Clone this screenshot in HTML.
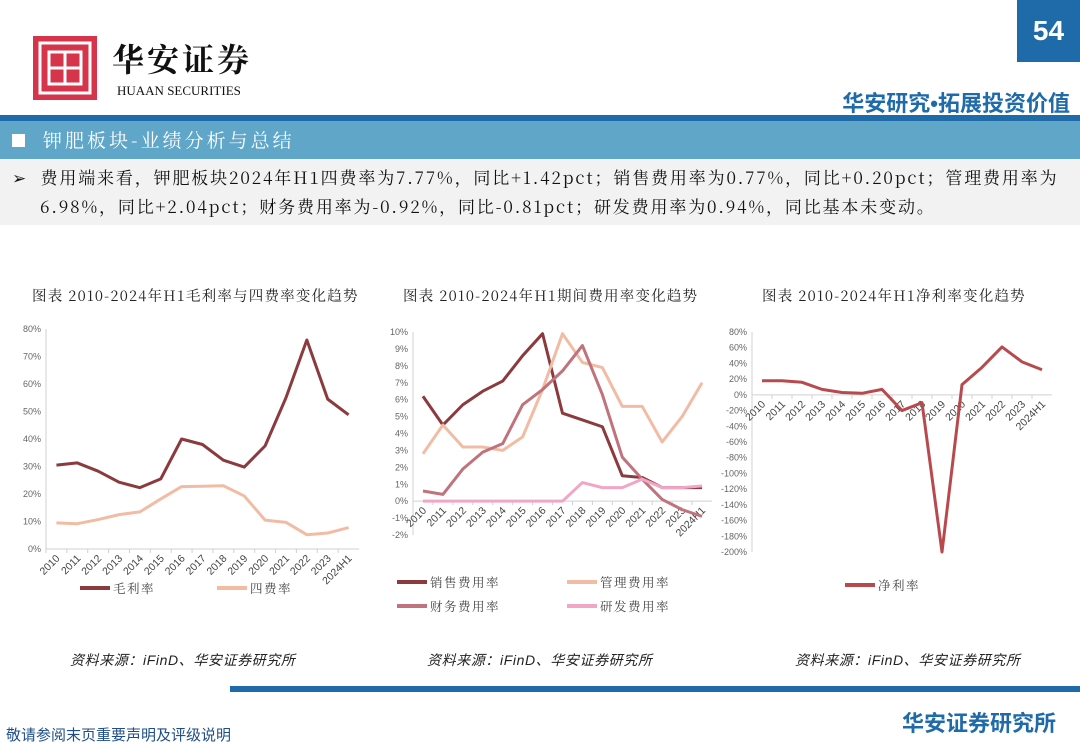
<!DOCTYPE html>
<html><head><meta charset="utf-8">
<style>
body{margin:0;width:1080px;height:748px;background:#fff;font-family:"Liberation Sans","Noto Sans CJK SC",sans-serif;position:relative;overflow:hidden}
.abs{position:absolute}
.cn{font-family:"Noto Serif CJK SC","Noto Sans CJK SC",sans-serif}
</style></head><body>
<div class="abs" style="left:33px;top:36px;width:64px;height:64px;background:#d6344a">
<svg width="64" height="64"><g fill="none" stroke="#fff" stroke-width="3"><rect x="7" y="7" width="50" height="50"/><rect x="16" y="16" width="32" height="32"/><line x1="32" y1="16" x2="32" y2="48"/><line x1="16" y1="32" x2="48" y2="32"/></g></svg></div>
<div class="abs cn" style="left:112px;top:36px;font-size:32px;font-weight:bold;letter-spacing:3px;color:#111;line-height:44px">华安证券</div>
<div class="abs" style="left:117px;top:83px;font-size:13px;font-family:'Liberation Serif',serif;color:#111">HUAAN SECURITIES</div>
<div class="abs" style="left:1017px;top:0;width:63px;height:62px;background:#1f6aa8;color:#fff;font-size:28px;font-weight:bold;text-align:center;line-height:62px">54</div>
<div class="abs" style="right:10px;top:86px;font-size:22px;font-weight:bold;color:#1f6aa8">华安研究•拓展投资价值</div>
<div class="abs" style="left:0;top:115px;width:1080px;height:6px;background:#1f6aa8"></div>
<div class="abs" style="left:0;top:121px;width:1080px;height:38px;background:#5fa6c8;color:#fff;font-size:19px;line-height:38px"><span style="display:inline-block;width:13px;height:13px;background:#fff;margin:0 18px 0 12px"></span><span class="cn" style="letter-spacing:3px">钾肥板块-业绩分析与总结</span></div>
<div class="abs cn" style="left:0;top:159px;width:1080px;height:66px;background:#f2f2f2;font-size:17px;letter-spacing:1.85px;line-height:29px;color:#111;padding-top:3px;box-sizing:border-box;white-space:nowrap"><div style="padding-left:12px">➢&nbsp; 费用端来看，钾肥板块2024年H1四费率为7.77%，同比+1.42pct；销售费用率为0.77%，同比+0.20pct；管理费用率为</div><div style="padding-left:40px">6.98%，同比+2.04pct；财务费用率为-0.92%，同比-0.81pct；研发费用率为0.94%，同比基本未变动。</div></div>
<div class="abs cn" style="left:32px;top:285px;font-size:14.5px;letter-spacing:1.2px;color:#222">图表 2010-2024年H1毛利率与四费率变化趋势</div>
<div class="abs cn" style="left:403px;top:285px;font-size:14.5px;letter-spacing:1.2px;color:#222">图表 2010-2024年H1期间费用率变化趋势</div>
<div class="abs cn" style="left:762px;top:285px;font-size:14.5px;letter-spacing:1.2px;color:#222">图表 2010-2024年H1净利率变化趋势</div>
<div class="abs" style="left:70px;top:650px;font-size:14px;font-style:italic;letter-spacing:0.6px;color:#222">资料来源：iFinD、华安证券研究所</div>
<div class="abs" style="left:427px;top:650px;font-size:14px;font-style:italic;letter-spacing:0.6px;color:#222">资料来源：iFinD、华安证券研究所</div>
<div class="abs" style="left:795px;top:650px;font-size:14px;font-style:italic;letter-spacing:0.6px;color:#222">资料来源：iFinD、华安证券研究所</div>
<div class="abs" style="left:230px;top:686px;width:850px;height:6px;background:#1f6aa8"></div>
<div class="abs" style="left:6px;top:724px;font-size:15px;color:#1f4e8a">敬请参阅末页重要声明及评级说明</div>
<div class="abs" style="right:24px;top:706px;font-size:22px;font-weight:bold;color:#1f6aa8">华安证券研究所</div>
<svg id="c" class="abs" style="left:0;top:0" width="1080" height="748"></svg>
<script>
const categories=["2010","2011","2012","2013","2014","2015","2016","2017","2018","2019","2020","2021","2022","2023","2024H1"];
const grossMargin=[30.5,31.3,28.3,24.3,22.3,25.5,40,38,32.3,29.8,37.5,55,76,54.5,48.8];
const fourFeeRate=[9.5,9.2,10.7,12.5,13.5,18.2,22.7,22.8,23,19.3,10.5,9.7,5.2,5.8,7.8];
const salesRate=[6.2,4.5,5.7,6.5,7.1,8.6,9.9,5.2,4.8,4.4,1.5,1.4,0.8,0.8,0.8];
const adminRate=[2.8,4.5,3.2,3.2,3.0,3.8,6.6,9.9,8.2,7.9,5.6,5.6,3.5,5.0,7.0];
const financeRate=[0.6,0.4,1.9,2.9,3.4,5.7,6.6,7.7,9.2,6.3,2.6,1.3,0.1,-0.5,-0.9];
const rdRate=[0,0,0,0,0,0,0,0,1.1,0.8,0.8,1.3,0.8,0.8,0.9];
const netMargin=[18,18,16,7,3,2,7,-20,-10,-200,13,35,61,42,32];
const ticks1=[0,10,20,30,40,50,60,70,80];
const ticks2=[-2,-1,0,1,2,3,4,5,6,7,8,9,10];
const ticks3=[-200,-180,-160,-140,-120,-100,-80,-60,-40,-20,0,20,40,60,80];
const svg=document.getElementById('c');
const NS='http://www.w3.org/2000/svg';
function mk(t,a,p){const e=document.createElementNS(NS,t);for(const k in a)e.setAttribute(k,a[k]);(p||svg).appendChild(e);return e;}
function chart(cfg){
 const g=mk('g',{});
 
 
 const ymin=cfg.ticks[0],ymax=cfg.ticks[cfg.ticks.length-1];
 const y=v=>cfg.y1+(ymax-v)/(ymax-ymin)*(cfg.y0-cfg.y1);
 const step=(cfg.x1-cfg.x0)/categories.length;
 const x=i=>cfg.x0+step*(i+0.5);
 const zy=y(Math.max(0,ymin));
 mk('line',{x1:cfg.x0,x2:cfg.x0,y1:cfg.y1,y2:cfg.y0,stroke:'#d0d0d0'},g);
 mk('line',{x1:cfg.x0,x2:cfg.x1,y1:zy,y2:zy,stroke:'#d0d0d0'},g);
 cfg.ticks.forEach(t=>{const tx=mk('text',{x:cfg.x0-5,y:y(t)+3,'text-anchor':'end','font-size':9,fill:'#666'},g);tx.textContent=t+'%';});
 categories.forEach((c,i)=>{mk('line',{x1:cfg.x0+step*i,x2:cfg.x0+step*i,y1:zy,y2:zy+4,stroke:'#d0d0d0'},g);
  const tx=mk('text',{x:x(i)+4,y:zy+cfg.lblOff,'text-anchor':'end','font-size':10.5,fill:'#444',transform:`rotate(-45 ${x(i)+4} ${zy+cfg.lblOff})`},g);tx.textContent=c;});
 cfg.series.forEach(s=>{const p=mk('polyline',{points:s.d.map((v,i)=>x(i)+','+y(v)).join(' '),fill:'none',stroke:s.c,'stroke-width':3,'stroke-linejoin':'round'},g);
  
  const l=mk('line',{x1:s.lx,x2:s.lx+30,y1:s.ly,y2:s.ly,stroke:s.c,'stroke-width':4},g);
  
  const t=mk('text',{x:s.lx+33,y:s.ly+5,'font-size':12.5,'letter-spacing':1.5,fill:'#444','font-family':'Noto Serif CJK SC, sans-serif'},g);t.textContent=s.label;
  });
}
chart({name:'gross-margin-chart',x0:46,x1:359,y0:549,y1:329,ticks:ticks1,lblOff:10,series:[
 {d:grossMargin,c:'#8b3a3e',n:'gross-margin',label:'毛利率',lx:80,ly:588},
 {d:fourFeeRate,c:'#f2bca4',n:'four-fee-rate',label:'四费率',lx:217,ly:588}]});
chart({name:'expense-rate-chart',x0:413,x1:712,y0:535,y1:332,ticks:ticks2,lblOff:10,series:[
 {d:salesRate,c:'#8b3a3e',n:'sales-rate',label:'销售费用率',lx:397,ly:582},
 {d:adminRate,c:'#f2bca4',n:'admin-rate',label:'管理费用率',lx:567,ly:582},
 {d:financeRate,c:'#c0737c',n:'finance-rate',label:'财务费用率',lx:397,ly:606},
 {d:rdRate,c:'#f2a6c6',n:'rd-rate',label:'研发费用率',lx:567,ly:606}]});
chart({name:'net-margin-chart',x0:752,x1:1052,y0:552,y1:332,ticks:ticks3,lblOff:10,series:[
 {d:netMargin,c:'#b84a4e',n:'net-margin',label:'净利率',lx:845,ly:585}]});
</script>
</body></html>
